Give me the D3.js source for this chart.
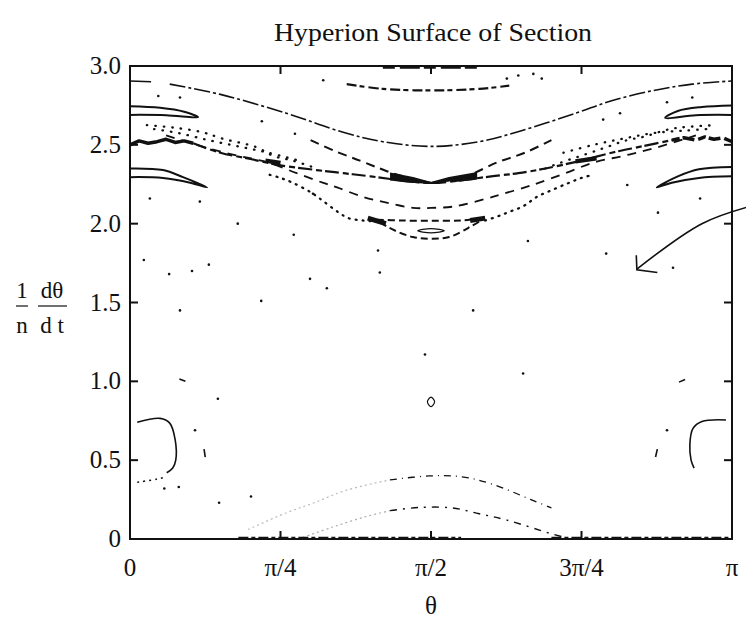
<!DOCTYPE html>
<html><head><meta charset="utf-8">
<script src="https://cdn.jsdelivr.net/npm/d3@7"></script>
<style>
body{margin:0;background:#fff;}
text{font-family:"Liberation Serif","Times New Roman",serif;fill:#111;}
</style></head>
<body><svg id="c" width="746" height="627"></svg>
<script>
// ---- data (theta in units of pi, value = (1/n) dtheta/dt) ----
const title = "Hyperion Surface of Section";
const xTickVals = [0, 0.25, 0.5, 0.75, 1];
const xTickLabels = ["0", "\u03c0/4", "\u03c0/2", "3\u03c0/4", "\u03c0"];
const yTickVals = [0, 0.5, 1.0, 1.5, 2.0, 2.5, 3.0];
const yTickLabels = ["0", "0.5", "1.0", "1.5", "2.0", "2.5", "3.0"];

const outerCurve = [[0.066,2.885],[0.15,2.82],[0.26,2.70],[0.354,2.58],[0.42,2.52],[0.5,2.49],[0.58,2.52],[0.646,2.585],[0.74,2.70],[0.80,2.78],[0.87,2.845],[0.934,2.885],[1.0,2.905]];
const outerStub = [[0.0,2.905],[0.035,2.90]];
const topArc = [[0.36,2.885],[0.42,2.855],[0.5,2.845],[0.58,2.855],[0.63,2.875]];
const topBand = [[0.42,2.99],[0.58,2.99]];
const islandUL = [[0,2.745],[0.05,2.735],[0.09,2.71],[0.113,2.675],[0.06,2.688],[0,2.69]];
const islandUR = [[1,2.75],[0.95,2.74],[0.91,2.715],[0.889,2.67],[0.94,2.688],[1,2.69]];
const islandLL = [[0,2.35],[0.055,2.34],[0.088,2.295],[0.128,2.23],[0.10,2.26],[0.055,2.29],[0,2.295]];
const islandLR = [[1,2.36],[0.945,2.345],[0.91,2.30],[0.875,2.23],[0.90,2.26],[0.945,2.29],[1,2.30]];
const chaosL = [[0,2.50],[0.015,2.525],[0.03,2.51],[0.045,2.52],[0.06,2.535],[0.075,2.515],[0.09,2.525],[0.105,2.51]];
const chaosR = [[0.90,2.53],[0.92,2.545],[0.94,2.53],[0.955,2.55],[0.97,2.535],[0.985,2.545],[1.0,2.52]];
const heavyCurve = [[0.105,2.51],[0.15,2.45],[0.20,2.41],[0.25,2.37],[0.31,2.34],[0.355,2.32],[0.40,2.30],[0.45,2.275],[0.5,2.258],[0.55,2.275],[0.6,2.30],[0.645,2.32],[0.69,2.35],[0.75,2.40],[0.80,2.45],[0.85,2.49],[0.90,2.53]];
const wedgeL = [[0.432,2.318],[0.47,2.29],[0.5,2.258],[0.46,2.268],[0.432,2.28]];
const wedgeR = [[0.5,2.258],[0.53,2.29],[0.575,2.32],[0.575,2.285],[0.54,2.27]];
const blobL2 = [[0.225,2.40],[0.25,2.385]];
const blobR2 = [[0.74,2.395],[0.775,2.415]];
const sepUL = [[0.30,2.53],[0.344,2.455],[0.382,2.40],[0.415,2.35],[0.44,2.315],[0.47,2.285],[0.5,2.258]];
const sepUR = [[0.5,2.258],[0.557,2.30],[0.611,2.39],[0.656,2.45],[0.70,2.53]];
const dotsL1 = [[0.028,2.625],[0.071,2.61],[0.12,2.58],[0.153,2.54],[0.21,2.485],[0.238,2.43],[0.27,2.40],[0.31,2.35]];
const dotsR1 = [[0.69,2.35],[0.714,2.385],[0.78,2.47],[0.826,2.53],[0.852,2.55],[0.897,2.60],[0.93,2.615],[0.975,2.625]];
const dotsL2 = [[0.04,2.60],[0.08,2.575],[0.13,2.53],[0.18,2.49],[0.23,2.45],[0.28,2.40]];
const dotsR2 = [[0.72,2.45],[0.77,2.50],[0.82,2.54],[0.87,2.575],[0.92,2.59],[0.96,2.60]];
const curveC = [[0.06,2.56],[0.128,2.48],[0.18,2.43],[0.228,2.39],[0.277,2.32],[0.32,2.26],[0.344,2.23],[0.387,2.17],[0.43,2.13],[0.47,2.10],[0.5,2.10],[0.54,2.11],[0.593,2.16],[0.62,2.19],[0.656,2.23],[0.68,2.26],[0.723,2.32],[0.772,2.39],[0.82,2.43],[0.872,2.48],[0.94,2.56]];
const dotsL3 = [[0.232,2.31],[0.25,2.29],[0.27,2.26],[0.30,2.20],[0.315,2.16],[0.347,2.07],[0.363,2.035],[0.387,2.02],[0.41,2.015]];
const dotsR3 = [[0.59,2.02],[0.61,2.045],[0.63,2.075],[0.653,2.11],[0.676,2.17],[0.705,2.22],[0.73,2.26],[0.75,2.29],[0.77,2.31]];
const lowerLobe = [[0.41,2.025],[0.45,2.02],[0.5,2.018],[0.55,2.02],[0.585,2.03],[0.565,1.98],[0.53,1.915],[0.5,1.905],[0.47,1.915],[0.43,1.975],[0.41,2.025]];
const lobeBlobL = [[0.395,2.035],[0.425,2.0]];
const lobeBlobR = [[0.565,2.02],[0.59,2.035]];
const smallIsland = [[0.478,1.955],[0.5,1.968],[0.522,1.955],[0.5,1.942]];
const centerLoop = [[0.494,0.87],[0.5,0.9],[0.506,0.87],[0.5,0.84]];
const islandBL = [[0.012,0.74],[0.05,0.765],[0.066,0.735],[0.075,0.63],[0.076,0.50],[0.071,0.45],[0.061,0.42]];
const islandBR = [[0.99,0.755],[0.95,0.745],[0.935,0.70],[0.93,0.60],[0.932,0.50],[0.937,0.45]];
const dots038 = [[0.012,0.36],[0.045,0.38],[0.06,0.395]];
const dashesShort = [
  [[0.123,0.57],[0.125,0.52]],
  [[0.876,0.57],[0.873,0.52]],
  [[0.082,1.015],[0.092,1.0]],
  [[0.912,0.995],[0.922,1.012]]
];
const arcUpperFaint = [[0.196,0.06],[0.259,0.165],[0.306,0.23],[0.36,0.31],[0.432,0.375]];
const arcUpperDark = [[0.432,0.375],[0.497,0.40],[0.55,0.395],[0.6,0.35],[0.666,0.25],[0.70,0.197]];
const arcLowerFaint = [[0.287,0.01],[0.337,0.076],[0.39,0.14],[0.432,0.18]];
const arcLowerDark = [[0.432,0.18],[0.48,0.20],[0.535,0.197],[0.58,0.16],[0.626,0.12],[0.698,0.035],[0.72,0.012]];
const baseBands = [
  [[0.18,0.008],[0.55,0.008]],
  [[0.70,0.008],[0.995,0.008]]
];
const scatterDots = [
  [0.179,2.00],[0.272,1.93],[0.023,1.77],[0.065,1.68],[0.103,1.70],[0.131,1.74],[0.218,1.51],
  [0.083,1.45],[0.299,1.65],[0.327,1.59],[0.412,1.83],[0.415,1.69],[0.570,1.45],[0.490,1.17],
  [0.661,1.89],[0.653,1.05],[0.791,1.81],[0.902,1.72],[0.146,0.89],
  [0.047,2.81],[0.083,2.80],[0.219,2.65],[0.321,2.91],[0.274,2.57],[0.033,2.16],[0.116,2.14],
  [0.304,2.19],[0.645,2.94],[0.67,2.95],[0.684,2.92],[0.626,2.92],[0.786,2.66],[0.814,2.70],
  [0.892,2.77],[0.934,2.80],[0.826,2.245],[0.947,2.16],[0.877,2.07],
  [0.108,0.69],[0.057,0.32],[0.081,0.33],[0.148,0.23],[0.201,0.27],[0.892,0.69]
];
const arrowLine = [[1.03,2.11],[0.95,2.0],[0.842,1.712]];
const arrowHead = [[0.841,1.80],[0.842,1.708],[0.876,1.69]];

// ---- layout ----
const svg = d3.select("#c");
const x = d3.scaleLinear().domain([0, 1]).range([130, 732]);
const y = d3.scaleLinear().domain([0, 3]).range([539, 66]);
const g = svg.append("g");

const smooth = d3.line().x(d => x(d[0])).y(d => y(d[1])).curve(d3.curveCatmullRom.alpha(0.5));
const closed = d3.line().x(d => x(d[0])).y(d => y(d[1])).curve(d3.curveCardinalClosed);
const straight = d3.line().x(d => x(d[0])).y(d => y(d[1]));

function draw(data, opts, gen) {
  g.append("path").attr("d", (gen || smooth)(data))
    .attr("fill", opts.fill || "none")
    .attr("stroke", opts.color || "#111")
    .attr("stroke-width", opts.w || 1.5)
    .attr("stroke-dasharray", opts.dash || null)
    .attr("stroke-linecap", opts.cap || "butt")
    .attr("stroke-linejoin", "round");
}

draw(outerCurve, {w: 1.6, dash: "16 3 3 3"});
draw(outerStub, {w: 1.6}, straight);
draw(topArc, {w: 2.2, dash: "10 3 5 4"});
draw(topBand, {w: 2.5, dash: "12 5 20 4"}, straight);
[islandUL, islandUR, islandLL, islandLR].forEach(d => draw(d, {w: 2}));
draw(chaosL, {w: 3.5}, straight);
draw(chaosR, {w: 3.5, dash: "8 3 12 4"}, straight);
draw(heavyCurve, {w: 2.2, dash: "14 4 6 3"});
[wedgeL, wedgeR].forEach(d => draw(d, {w: 2, fill: "#111"}, straight));
[blobL2, blobR2].forEach(d => draw(d, {w: 4.5}));
[sepUL, sepUR].forEach(d => draw(d, {w: 2, dash: "9 6"}));
[dotsL1, dotsR1, dotsL2, dotsR2].forEach(d => draw(d, {w: 2.3, dash: "0.5 8", cap: "round"}));
draw(curveC, {w: 1.8, dash: "9 7"});
[dotsL3, dotsR3].forEach(d => draw(d, {w: 2.3, dash: "1 6", cap: "round"}));
draw(lowerLobe, {w: 2, dash: "7 4"});
[lobeBlobL, lobeBlobR].forEach(d => draw(d, {w: 5}));
draw(smallIsland, {w: 1.3}, closed);
draw(centerLoop, {w: 1.2}, closed);
draw(islandBL, {w: 1.6});
draw(islandBR, {w: 1.6});
draw(dots038, {w: 1.5, dash: "2 4"});
dashesShort.forEach(d => draw(d, {w: 1.6}, straight));
draw(arcUpperFaint, {w: 1.2, color: "#bbb", dash: "2 3"});
draw(arcUpperDark, {w: 1.3, dash: "7 5 1 5"});
draw(arcLowerFaint, {w: 1.2, color: "#aaa", dash: "2 3"});
draw(arcLowerDark, {w: 1.4, dash: "7 6 2 6"});
baseBands.forEach(d => draw(d, {w: 2.2, dash: "10 3 4 3"}, straight));

g.selectAll("circle.dot").data(scatterDots).join("circle")
  .attr("class", "dot").attr("cx", d => x(d[0])).attr("cy", d => y(d[1]))
  .attr("r", 1.3).attr("fill", "#111");

// ---- frame and axes ----
svg.append("rect").attr("x", x(0)).attr("y", y(3)).attr("width", x(1) - x(0)).attr("height", y(0) - y(3))
  .attr("fill", "none").attr("stroke", "#111").attr("stroke-width", 2);

const tickLen = 8;
const yInner = yTickVals.filter(v => v > 0 && v < 3);
const xInner = xTickVals.filter(v => v > 0 && v < 1);
const ticks = svg.append("g").attr("stroke", "#111").attr("stroke-width", 2);
yInner.forEach(v => {
  ticks.append("line").attr("x1", x(0)).attr("x2", x(0) + tickLen).attr("y1", y(v)).attr("y2", y(v));
  ticks.append("line").attr("x1", x(1)).attr("x2", x(1) - tickLen).attr("y1", y(v)).attr("y2", y(v));
});
xInner.forEach(v => {
  ticks.append("line").attr("x1", x(v)).attr("x2", x(v)).attr("y1", y(0)).attr("y2", y(0) - tickLen);
  ticks.append("line").attr("x1", x(v)).attr("x2", x(v)).attr("y1", y(3)).attr("y2", y(3) + tickLen);
});

svg.append("g").selectAll("text").data(yTickVals).join("text")
  .attr("x", x(0) - 9).attr("y", d => y(d) + 8)
  .attr("text-anchor", "end").attr("font-size", 25)
  .text((d, i) => yTickLabels[i]);

svg.append("g").selectAll("text").data(xTickVals).join("text")
  .attr("x", d => x(d)).attr("y", 576)
  .attr("text-anchor", "middle").attr("font-size", 25)
  .text((d, i) => xTickLabels[i]);

svg.append("text").attr("x", 433).attr("y", 41).attr("text-anchor", "middle")
  .attr("font-size", 26).attr("textLength", 318).attr("lengthAdjust", "spacingAndGlyphs").text(title);

svg.append("text").attr("x", 431).attr("y", 614).attr("text-anchor", "middle")
  .attr("font-size", 25).text("\u03b8");

// y-axis label as fractions: (1/n)(dθ/dt)
const yl = svg.append("g");
yl.append("text").attr("x", 22).attr("y", 298).attr("text-anchor", "middle").attr("font-size", 23).text("1");
yl.append("text").attr("x", 22).attr("y", 333).attr("text-anchor", "middle").attr("font-size", 23).text("n");
yl.append("text").attr("x", 52).attr("y", 298).attr("text-anchor", "middle").attr("font-size", 23).text("d\u03b8");
yl.append("text").attr("x", 52).attr("y", 333).attr("text-anchor", "middle").attr("font-size", 23).text("d t");
yl.append("line").attr("x1", 16).attr("x2", 28).attr("y1", 306).attr("y2", 306).attr("stroke", "#111").attr("stroke-width", 1.2);
yl.append("line").attr("x1", 38).attr("x2", 67).attr("y1", 306).attr("y2", 306).attr("stroke", "#111").attr("stroke-width", 1.2);

// annotation arrow
const arr = svg.append("g");
arr.append("path").attr("d", smooth(arrowLine)).attr("fill", "none").attr("stroke", "#111").attr("stroke-width", 1.6);
arr.append("path").attr("d", straight(arrowHead)).attr("fill", "none").attr("stroke", "#111").attr("stroke-width", 1.6);
</script></body></html>
